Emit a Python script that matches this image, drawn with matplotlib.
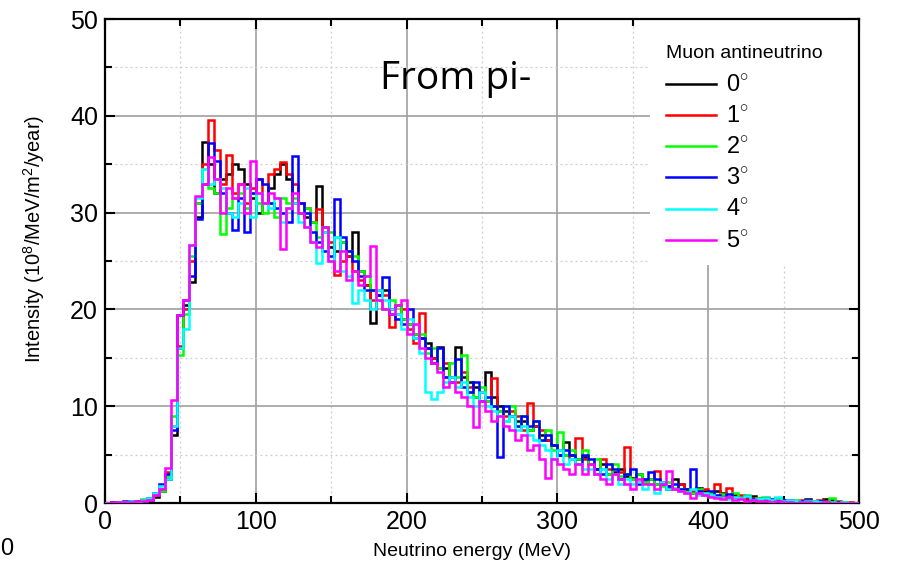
import matplotlib
matplotlib.use("Agg")
import matplotlib.pyplot as plt
import numpy as np
from matplotlib.patches import Rectangle

# bin edges: 4 MeV bins from 0 to 500 MeV
edges = np.arange(0, 504, 4)

labels = ['0$^{\\circ}$', '1$^{\\circ}$', '2$^{\\circ}$', '3$^{\\circ}$', '4$^{\\circ}$', '5$^{\\circ}$']
colors = ['#000000', '#ff0000', '#00ff00', '#0000ff', '#00ffff', '#ff00ff']

deg0 = [0.0, 0.1, 0.1, 0.1, 0.2, 0.1, 0.2, 0.3, 0.6, 1.2,
        2.5, 7.0, 16.0, 20.5, 22.8, 29.5, 37.3, 35.0, 32.0, 33.5,
        34.0, 35.0, 34.5, 33.0, 31.5, 30.0, 31.0, 32.5, 34.0, 35.0,
        33.5, 31.0, 30.0, 29.5, 29.0, 32.7, 28.5, 26.5, 26.0, 27.0,
        25.5, 28.0, 24.0, 22.5, 18.6, 21.5, 22.0, 20.0, 20.5, 19.0,
        18.5, 17.5, 17.0, 16.5, 15.0, 16.1, 14.0, 13.0, 16.1, 13.0,
        12.5, 12.0, 11.5, 13.5, 11.0, 10.0, 9.5, 9.0, 8.5, 8.5,
        7.5, 8.0, 7.0, 6.5, 6.0, 5.0, 6.3, 5.0, 4.5, 4.8,
        4.0, 3.5, 4.0, 3.0, 3.2, 3.5, 2.8, 2.6, 3.0, 2.2,
        2.5, 2.0, 2.2, 1.5, 2.5, 2.0, 1.5, 1.0, 1.6, 1.2,
        0.8, 1.2, 1.0, 0.6, 0.8, 0.5, 0.4, 0.7, 0.3, 0.4,
        0.3, 0.5, 0.2, 0.3, 0.2, 0.1, 0.4, 0.2, 0.1, 0.4,
        0.3, 0.1, 0.1, 0.0, 0.0]
deg1 = [0.0, 0.0, 0.1, 0.0, 0.1, 0.2, 0.3, 0.4, 0.8, 1.4,
        3.2, 8.0, 16.2, 20.0, 25.0, 31.0, 35.0, 39.6, 36.5, 33.0,
        36.0, 32.0, 33.0, 31.0, 32.5, 33.5, 31.0, 34.0, 34.5, 35.2,
        34.0, 33.0, 31.0, 30.5, 29.0, 30.4, 28.0, 27.0, 23.6, 25.0,
        25.5, 24.0, 23.0, 22.5, 21.0, 22.0, 21.5, 18.2, 19.5, 20.0,
        18.0, 16.5, 19.6, 16.0, 15.0, 14.0, 14.5, 13.0, 12.5, 13.5,
        12.0, 11.0, 11.5, 10.5, 12.9, 9.5, 9.0, 9.5, 9.0, 7.5,
        10.3, 8.0, 7.5, 6.5, 6.0, 5.5, 5.0, 4.5, 6.7, 4.5,
        4.0, 3.0, 4.5, 3.5, 3.0, 3.2, 5.8, 2.5, 2.2, 2.5,
        2.0, 3.3, 2.0, 1.8, 1.5, 2.0, 1.4, 1.2, 1.0, 1.5,
        1.0, 2.0, 0.8, 1.6, 0.6, 0.8, 0.5, 0.4, 0.5, 0.3,
        0.3, 0.4, 0.2, 0.3, 0.2, 0.3, 0.1, 0.2, 0.3, 0.2,
        0.1, 0.2, 0.0, 0.1, 0.0]
deg2 = [0.0, 0.0, 0.0, 0.1, 0.1, 0.2, 0.4, 0.5, 0.9, 1.2,
        2.8, 9.0, 15.3, 19.5, 25.5, 31.0, 34.5, 32.5, 32.0, 27.8,
        30.5, 31.5, 32.0, 30.5, 32.0, 31.0, 30.0, 31.0, 29.5, 31.5,
        31.0, 31.5, 30.0, 30.5, 29.0, 27.5, 28.5, 28.0, 27.5, 27.0,
        26.0, 25.5, 24.0, 23.5, 22.0, 21.0, 20.0, 21.0, 20.5, 19.0,
        18.5, 17.5, 17.5, 15.5, 16.0, 14.0, 13.0, 14.5, 13.0, 15.3,
        11.5, 11.0, 12.0, 10.5, 10.0, 9.5, 8.5, 10.0, 8.0, 9.0,
        7.5, 8.5, 6.5, 7.5, 5.5, 7.3, 5.0, 5.5, 4.5, 5.5,
        4.0, 4.5, 3.5, 3.0, 4.0, 2.8, 3.0, 2.5, 3.0, 2.2,
        2.5, 2.0, 1.8, 2.2, 1.6, 1.5, 1.2, 1.0, 1.5, 0.8,
        1.0, 0.7, 0.9, 0.6, 1.0, 0.5, 0.8, 0.4, 0.5, 0.6,
        0.3, 0.4, 0.3, 0.2, 0.3, 0.2, 0.3, 0.1, 0.2, 0.1,
        0.5, 0.1, 0.1, 0.0, 0.0]
deg3 = [0.0, 0.1, 0.1, 0.2, 0.1, 0.2, 0.3, 0.5, 1.0, 2.0,
        3.0, 7.5, 19.4, 21.0, 23.5, 29.3, 33.0, 37.2, 35.3, 32.0,
        30.0, 28.2, 31.5, 28.0, 32.0, 33.5, 33.0, 31.0, 30.5, 30.0,
        29.0, 35.8, 31.0, 30.0, 28.0, 27.0, 26.0, 25.5, 31.4, 27.5,
        26.0, 25.0, 23.5, 22.0, 22.0, 21.5, 23.4, 19.5, 19.0, 18.5,
        20.0, 17.0, 17.0, 16.0, 14.5, 16.0, 13.0, 12.5, 14.9, 12.0,
        11.5, 12.5, 10.5, 11.0, 10.0, 4.8, 10.0, 9.0, 8.0, 9.0,
        8.0, 8.5, 6.5, 7.0, 6.0, 5.0, 5.5, 5.0, 4.0, 5.0,
        4.5, 3.5, 3.0, 4.0, 3.5, 2.5, 3.0, 3.5, 2.0, 2.5,
        3.2, 2.5, 2.0, 1.8, 2.0, 1.5, 1.5, 3.5, 1.2, 1.0,
        1.2, 0.8, 0.5, 0.9, 0.6, 0.5, 0.7, 0.4, 0.3, 0.5,
        0.4, 0.2, 0.3, 0.3, 0.1, 0.2, 0.3, 0.1, 0.2, 0.1,
        0.1, 0.1, 0.0, 0.0, 0.0]
deg4 = [0.0, 0.0, 0.1, 0.1, 0.2, 0.1, 0.3, 0.5, 1.0, 1.8,
        2.5, 8.0, 16.0, 18.0, 26.7, 31.5, 34.5, 33.0, 33.5, 32.5,
        30.0, 29.5, 31.0, 32.5, 29.5, 32.0, 31.0, 30.5, 31.5, 29.0,
        30.5, 31.0, 29.0, 28.5, 27.0, 24.8, 28.0, 25.0, 27.5, 24.0,
        23.5, 20.7, 22.0, 21.0, 20.0, 22.0, 21.0, 20.0, 19.5, 18.0,
        19.0, 17.0, 15.5, 11.5, 10.7, 11.5, 12.5, 13.0, 12.0, 12.5,
        11.0, 10.0, 11.5, 10.0, 9.5, 9.0, 8.5, 9.0, 7.5, 8.0,
        7.0, 6.5, 6.0, 5.5, 4.5, 5.5, 4.0, 4.5, 4.0, 3.5,
        3.5, 3.0, 3.5, 2.5, 3.0, 2.0, 2.5, 2.0, 2.2, 1.5,
        2.0, 1.0, 2.2, 1.5, 1.4, 1.2, 1.0, 1.5, 0.8, 1.0,
        0.8, 0.6, 0.5, 0.4, 0.6, 0.5, 0.7, 0.3, 0.4, 0.5,
        0.3, 0.6, 0.2, 0.3, 0.2, 0.1, 0.2, 0.2, 0.1, 0.1,
        0.1, 0.0, 0.1, 0.0, 0.0]
deg5 = [0.0, 0.1, 0.1, 0.1, 0.1, 0.2, 0.2, 0.3, 0.8, 1.5,
        3.6, 10.6, 19.4, 21.0, 26.7, 31.7, 33.0, 35.7, 33.5, 30.0,
        32.5, 31.5, 33.0, 30.0, 35.3, 32.0, 31.0, 32.0, 31.5, 26.2,
        30.5, 32.0, 30.0, 28.5, 27.0, 26.5, 28.5, 25.0, 24.0, 26.0,
        23.0, 24.0, 22.5, 23.5, 26.6, 21.0, 20.0, 19.5, 20.5, 21.0,
        17.5, 18.5, 16.0, 15.0, 14.5, 13.5, 12.0, 12.5, 11.5, 11.0,
        10.0, 7.9, 10.5, 9.5, 8.5, 9.0, 8.0, 7.5, 6.5, 7.0,
        5.5, 6.0, 4.5, 2.6, 4.5, 4.0, 3.5, 3.0, 4.0, 3.0,
        4.0, 3.0, 2.5, 2.0, 3.0, 2.5, 2.0, 1.5, 2.5, 2.0,
        2.0, 1.5, 2.0, 3.3, 1.5, 1.2, 1.0, 0.5, 1.0, 0.8,
        0.6, 0.5, 0.4, 0.6, 0.3, 0.4, 0.2, 0.3, 0.2, 0.2,
        0.1, 0.2, 0.1, 0.1, 0.0, 0.1, 0.1, 0.0, 0.0, 0.1,
        0.0, 0.0, 0.0, 0.0, 0.0]
series = [deg0, deg1, deg2, deg3, deg4, deg5]

plt.rcParams['font.family'] = ['Liberation Sans', 'DejaVu Sans']
plt.rcParams['mathtext.fontset'] = 'custom'
plt.rcParams['mathtext.rm'] = 'Liberation Sans'

fig = plt.figure(figsize=(8.99, 5.65), dpi=100)
ax = fig.add_axes([0.1168, 0.1097, 0.8387, 0.8566])

for vals, c, lab in zip(series, colors, labels):
    ax.stairs(vals, edges, color=c, lw=1.8, label=lab, zorder=3)

ax.set_xlim(0, 500)
ax.set_ylim(0, 50)
ax.set_xticks(np.arange(0, 501, 100))
ax.set_xticks(np.arange(50, 500, 100), minor=True)
ax.set_yticks(np.arange(0, 51, 10))
ax.set_yticks(np.arange(5, 50, 10), minor=True)

# grid: solid major, dotted minor
ax.grid(which='major', color='#a0a0a0', lw=1.2, ls='-', zorder=0)
ax.grid(which='minor', color='#cccccc', lw=0.9, ls=(0, (1.5, 2.5)), zorder=0)
ax.set_axisbelow(True)

ax.tick_params(which='both', direction='in', top=True, right=True, width=1.5,
               labelsize=18, pad=5)
ax.tick_params(which='major', length=7)
ax.tick_params(which='minor', length=5)
for s in ax.spines.values():
    s.set_linewidth(1.6)

ax.set_xlabel('Neutrino energy (MeV)', fontsize=14)
ax.set_ylabel('Intensity (10$^8$/MeV/m$^2$/year)', fontsize=14.5)
ax.xaxis.set_label_coords(0.487, -0.083)
ax.yaxis.set_label_coords(-0.077, 0.545)

# white box behind the legend hides the grid
ax.add_patch(Rectangle((0.723, 0.492), 0.277, 0.508, transform=ax.transAxes,
                       facecolor='white', edgecolor='none', zorder=1))

leg = ax.legend(loc='upper left', bbox_to_anchor=(0.716, 0.99), frameon=False,
                title='Muon antineutrino', title_fontsize=14, fontsize=17,
                handlelength=2.1, handletextpad=0.45, labelspacing=0.38,
                alignment='left')
for h in leg.get_lines():
    h.set_linewidth(1.8)
leg._legend_box.sep = 9

ax.text(0.365, 0.856, 'From pi-', transform=ax.transAxes, fontsize=28,
        family=['Open Sans', 'DejaVu Sans'])

fig.text(0.0, 0.018, '0', fontsize=17)

fig.savefig('out.png', dpi=100)
